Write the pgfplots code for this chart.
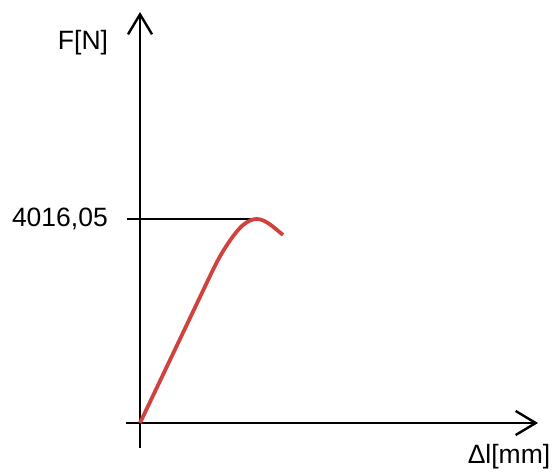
\documentclass[border=0pt]{standalone}
\usepackage{fontspec}
\setmainfont{Liberation Sans}
\usepackage{pgfplots}
\pgfplotsset{compat=1.18}
\usetikzlibrary{arrows.meta}
\definecolor{curvered}{RGB}{208,66,62}
\begin{document}
\begin{tikzpicture}
\begin{axis}[
  scale only axis, width=553pt, height=475pt,
  xmin=-7, xmax=20.65, ymin=-1023.7, ymax=8327.4,
  hide axis, clip=false,
]
% y axis
\addplot[black, line width=2.4pt, -{Straight Barb[length=20pt,width=24pt,line width=2.4pt]}] coordinates {(0,-492) (0,8091)};
% x axis
\addplot[black, line width=2.4pt, -{Straight Barb[length=20pt,width=24pt,line width=2.4pt]}] coordinates {(-0.7,0) (19.9,0)};
% max force level line
\addplot[black, line width=2.4pt] coordinates {(-0.65,4016.05) (5.6,4016.05)};
% force-elongation curve
\addplot[curvered, line width=3.8pt, smooth, tension=0.6] coordinates {
(0,0) (1,826.8) (2,1653.7) (3,2480.5) (3.5,2894) (3.9,3209)
(4.3,3475) (4.7,3700) (5.1,3880) (5.5,3985) (5.85,4016.05) (6.2,3980) (6.6,3880) (7.15,3701)
};
\node[font=\fontsize{26.5}{30}\selectfont] at (axis cs:-2.85,7480.9) {F[N]};
\node[anchor=east, inner sep=0pt, font=\fontsize{26.5}{30}\selectfont] at (axis cs:-1.6,4016.05) {4016,05};
\node[font=\fontsize{26.5}{30}\selectfont] at (axis cs:18.45,-669.3) {Δl[mm]};
\end{axis}
\pgfresetboundingbox
\useasboundingbox (0,0) rectangle (553pt,475pt);
\end{tikzpicture}
\end{document}
